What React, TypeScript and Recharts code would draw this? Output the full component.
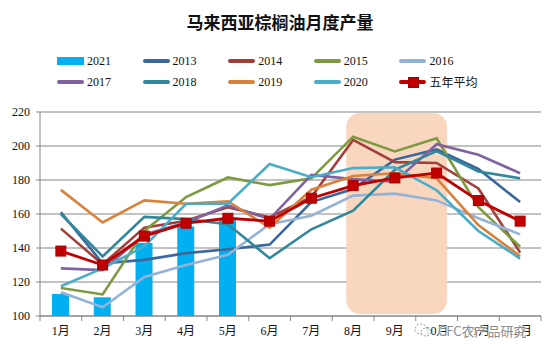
import React from 'react';
import { ComposedChart, Bar, Line, XAxis, YAxis, CartesianGrid, ReferenceArea } from 'recharts';

const months = ['1月', '2月', '3月', '4月', '5月', '6月', '7月', '8月', '9月', '10月', '11月', '12月'];
const s2021 = [113, 111, 143, 152.7, 157.3, null, null, null, null, null, null, null];
const s2013 = [161, 131, 133, 137, 139.3, 142, 167, 174.7, 192, 198, 186.5, 167];
const s2014 = [151.4, 130.4, 152, 156, 164, 158, 170, 203.6, 190.5, 190, 175, 137.3];
const s2015 = [116.5, 112.7, 150, 170, 181.5, 177, 181, 205.5, 196.8, 204.5, 164, 140.7];
const s2016 = [114, 105.1, 123, 130, 136, 154, 159, 170.8, 172, 168, 157.5, 148];
const s2017 = [128, 127, 148, 155, 165, 157, 183, 180.5, 179, 201, 194.8, 184];
const s2018 = [160, 135, 158.3, 157, 154, 134, 151, 162, 186, 197, 185, 181];
const s2019 = [174.2, 155, 168, 166, 167.5, 152, 174.3, 182.4, 184, 181, 153.5, 135.2];
const s2020 = [117.5, 128, 141, 166, 166, 189.4, 181.6, 187, 187.5, 174, 150, 133.8];
const avg5 = [138.2, 130, 147, 154.6, 157.5, 155.8, 169.3, 176.7, 181.2, 184.1, 167.9, 155.8];
const yTicks = [100, 120, 140, 160, 180, 200, 220];
const peakFrom = '8月';
const peakTo = '10月';
const titleText = '马来西亚棕榈油月度产量';
const watermarkText = 'CFC农产品研究';

const lineSeries = [
  { key: 'y2013', name: '2013', values: s2013, color: '#3B679C' },
  { key: 'y2014', name: '2014', values: s2014, color: '#A33F3B' },
  { key: 'y2015', name: '2015', values: s2015, color: '#7E9A40' },
  { key: 'y2016', name: '2016', values: s2016, color: '#95B3D7' },
  { key: 'y2017', name: '2017', values: s2017, color: '#7F63A1' },
  { key: 'y2018', name: '2018', values: s2018, color: '#31879C' },
  { key: 'y2019', name: '2019', values: s2019, color: '#D9823B' },
  { key: 'y2020', name: '2020', values: s2020, color: '#4BACC6' },
];
const barSeries = { key: 'y2021', name: '2021', values: s2021, color: '#00B0F0' };
const avgSeries = { key: 'avg', name: '五年平均', values: avg5, color: '#C00000' };

const data = months.map((m, i) => {
  const row: any = { month: m, [barSeries.key]: barSeries.values[i], [avgSeries.key]: avgSeries.values[i] };
  lineSeries.forEach((s) => { row[s.key] = s.values[i]; });
  return row;
});

const SERIF = '"Liberation Serif", "Times New Roman", "Noto Sans CJK SC", serif';
const GRID = '#868686';

const XTick = (props: any) => {
  const { x, y, payload, index } = props;
  const half = payload && payload.offset ? payload.offset : 20.875;
  const axisY = y - 7;
  return (
    <g>
      <line x1={x - half} x2={x - half} y1={axisY} y2={axisY + 5} stroke={GRID} />
      {index === months.length - 1 && (
        <line x1={x + half} x2={x + half} y1={axisY} y2={axisY + 5} stroke={GRID} />
      )}
      <text x={x} y={axisY + 18.5} textAnchor="middle" fontSize={12} fontFamily={SERIF} fill="#111">
        {payload.value}
      </text>
    </g>
  );
};

const PeakShape = (p: any) => (
  <rect x={p.x + 14} y={p.y + 1} width={p.width - 24.5} height={p.height - 3} rx={14} ry={14} fill="#F9D7BE" />
);

const SquareDot = (p: any) => {
  const { cx, cy, index } = p;
  if (cx == null || cy == null) return <g key={`d${index}`} />;
  return <rect key={`d${index}`} x={cx - 5} y={cy - 5} width={10} height={10} fill="#C00000" stroke="#A80000" strokeWidth={1} />;
};

const legendItems = [
  { name: barSeries.name, color: barSeries.color, type: 'bar' },
  ...lineSeries.map((s) => ({ name: s.name, color: s.color, type: 'line' })),
  { name: avgSeries.name, color: avgSeries.color, type: 'avg' },
];

const LegendIcon = ({ type, color }: { type: string; color: string }) => {
  if (type === 'bar') return <div style={{ width: 27, height: 8, background: color }} />;
  return (
    <div style={{ position: 'relative', width: 27, height: 10 }}>
      <div style={{ position: 'absolute', left: 0, top: 3, width: 27, height: 4, background: color, borderRadius: 2 }} />
      {type === 'avg' && (
        <div style={{ position: 'absolute', left: 9, top: 0, width: 9, height: 9, background: color, border: '0.5px solid #A80000' }} />
      )}
    </div>
  );
};

export default function App() {
  return (
    <div style={{ position: 'absolute', left: 0, top: 0, width: 546, height: 354, background: '#fff', overflow: 'hidden' }}>
      <div
        style={{
          position: 'absolute', left: 7, top: 10, width: 546, textAlign: 'center',
          fontFamily: '"Noto Sans CJK SC", sans-serif', fontWeight: 700, fontSize: 17, lineHeight: '24px', color: '#111',
        }}
      >
        {titleText}
      </div>
      {legendItems.map((it, i) => (
        <div
          key={it.name}
          style={{
            position: 'absolute', left: 57 + (i % 5) * 85.6, top: 53 + Math.floor(i / 5) * 21, height: 16,
            display: 'flex', alignItems: 'center', gap: 3, fontFamily: SERIF, fontSize: 12, color: '#111', whiteSpace: 'nowrap',
          }}
        >
          <LegendIcon type={it.type} color={it.color} />
          <span>{it.name}</span>
        </div>
      ))}
      <div style={{ position: 'absolute', left: 0, top: 0 }}>
        <ComposedChart width={546} height={354} data={data} margin={{ top: 112, right: 5, bottom: 0, left: 0 }}>
          <CartesianGrid horizontal vertical={false} stroke={GRID} strokeWidth={1} />
          <ReferenceArea x1={peakFrom} x2={peakTo} shape={PeakShape} ifOverflow="visible" />
          <XAxis
            dataKey="month"
            axisLine={{ stroke: GRID }}
            tickLine={false}
            tickSize={5}
            tickMargin={2}
            interval={0}
            tick={<XTick />}
            height={38}
          />
          <YAxis
            domain={[100, 220]}
            ticks={yTicks}
            width={40}
            axisLine={{ stroke: GRID }}
            tickLine={{ stroke: GRID }}
            tickSize={4}
            tickMargin={6}
            tick={{ fontSize: 12, fontFamily: SERIF, fill: '#111' }}
            allowDataOverflow
          />
          <Bar dataKey={barSeries.key} fill={barSeries.color} barSize={17} isAnimationActive={false} />
          {lineSeries.map((s) => (
            <Line
              key={s.key}
              dataKey={s.key}
              stroke={s.color}
              strokeWidth={2.6}
              dot={false}
              activeDot={false}
              type="linear"
              isAnimationActive={false}
            />
          ))}
          <Line
            dataKey={avgSeries.key}
            stroke={avgSeries.color}
            strokeWidth={2.8}
            dot={SquareDot}
            activeDot={false}
            type="linear"
            isAnimationActive={false}
          />
        </ComposedChart>
      </div>
      <div
        style={{
          position: 'absolute', left: 414, top: 321, height: 18, display: 'flex', alignItems: 'center', gap: 6,
          fontFamily: '"Noto Sans CJK SC", sans-serif', fontSize: 13, color: '#8c8c8c',
          textShadow: '0 0 2px #fff, 0 0 2px #fff, 0 0 3px #fff',
        }}
      >
        <svg width={18} height={16} viewBox="0 0 18 16">
          <ellipse cx={7} cy={7} rx={6} ry={5} fill="rgba(255,255,255,0.85)" stroke="#9a9a9a" strokeWidth={1} strokeDasharray="2 1.5" />
          <ellipse cx={12} cy={10} rx={5} ry={4} fill="rgba(255,255,255,0.85)" stroke="#9a9a9a" strokeWidth={1} strokeDasharray="2 1.5" />
        </svg>
        <span>{watermarkText}</span>
      </div>
    </div>
  );
}
